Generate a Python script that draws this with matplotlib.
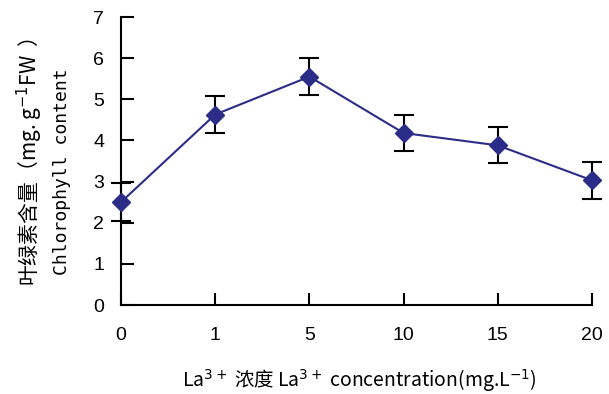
import numpy as np
import matplotlib.pyplot as plt

plt.rcParams['font.family'] = ['Noto Sans CJK SC', 'DejaVu Sans']
plt.rcParams['mathtext.fontset'] = 'dejavusans'

conc = ['0', '1', '5', '10', '15', '20']
chl = [2.50, 4.63, 5.55, 4.18, 3.88, 3.03]
err = [0.47, 0.45, 0.45, 0.43, 0.44, 0.45]

fig = plt.figure(figsize=(6.09, 3.94), dpi=100)
ax = fig.add_axes([121 / 609, 1 - 305 / 394, 471 / 609, 288 / 394])

x = np.arange(len(conc))
ax.errorbar(x, chl, yerr=err, color='#2a2c88', lw=1.5, marker='D', ms=9,
            ecolor='black', elinewidth=1.5, capsize=7, capthick=1.5,
            clip_on=False, zorder=3)

ax.set_xlim(0, len(conc) - 1)
ax.set_ylim(0, 7)
ax.set_xticks(x)
ax.set_xticklabels(conc)
ax.set_yticks(range(8))
ax.spines['top'].set_visible(False)
ax.spines['right'].set_visible(False)
for s in ['left', 'bottom']:
    ax.spines[s].set_linewidth(1.5)
ax.tick_params(axis='both', direction='in', width=1.5, length=9, labelsize=14)
ax.tick_params(axis='x', pad=16)
ax.tick_params(axis='y', pad=12)
for lab in ax.get_xticklabels() + ax.get_yticklabels():
    lab.set_family('Liberation Sans')

fig.text(30 / 609, 0.59, '叶绿素含量（mg. g$^{-1}$FW  ）', rotation=90,
         ha='center', va='center', fontsize=15)
fig.text(62 / 609, 0.565, 'Chlorophyll content', rotation=90,
         ha='center', va='center', fontsize=13, family='DejaVu Sans Mono')
fig.text(0.59, 0.035, 'La$^{3+}$ 浓度 La$^{3+}$ concentration(mg.L$^{-1}$)',
         ha='center', va='center', fontsize=14)

fig.savefig('out.png', dpi=100)
